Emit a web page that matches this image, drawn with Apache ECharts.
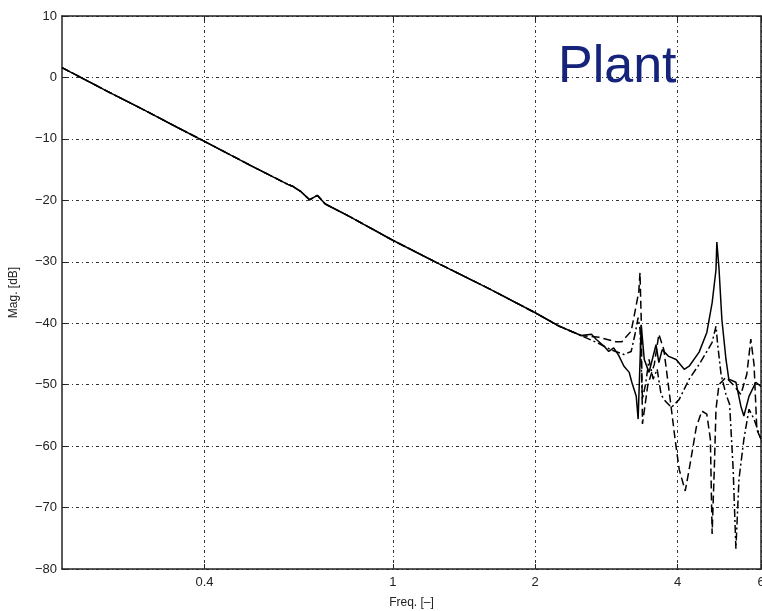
<!DOCTYPE html>
<html>
<head>
<meta charset="utf-8">
<script src="https://cdn.jsdelivr.net/npm/echarts@6/dist/echarts.min.js"></script>
<style>
  html, body { margin: 0; padding: 0; background: #fff; }
  #main { width: 762px; height: 611px; }
</style>
</head>
<body>
<div id="main"></div>
<script>
// low frequency part, the three measurements lie on top of each other
var lowFreq = [0.2, 0.25, 0.3, 0.35, 0.4, 0.5, 0.6, 0.614, 0.64, 0.667, 0.693, 0.72, 0.8, 1.0, 1.25, 1.6, 2.0, 2.25, 2.5];
var lowMag  = [1.6, -2.3, -5.4, -8.1, -10.4, -14.3, -17.4, -17.7, -18.6, -19.9, -19.2, -20.6, -22.4, -26.5, -30.3, -34.4, -38.3, -40.5, -42.0];

// solid line, above 2.5
var solidFreq = [2.63, 2.69, 2.80, 2.86, 2.93, 3.0, 3.08, 3.16, 3.20, 3.27, 3.30, 3.35, 3.40, 3.48, 3.60, 3.65, 3.71, 3.83, 3.97, 4.13, 4.23, 4.44, 4.61, 4.73, 4.82, 4.84, 4.89, 4.96, 5.06, 5.13, 5.31, 5.44, 5.52, 5.66, 5.85, 6.0];
var solidMag  = [-41.8, -42.6, -43.8, -44.6, -44.0, -45.2, -47.0, -48.0, -49.6, -51.9, -55.6, -40.3, -45.9, -48.0, -43.5, -46.4, -44.3, -45.4, -45.9, -47.5, -47.0, -44.7, -41.5, -36.7, -31.3, -26.8, -31.0, -39.4, -45.9, -49.1, -49.6, -53.5, -55.1, -51.9, -49.6, -50.3];

// dashed line, above 2.5
var dashFreq = [2.73, 2.96, 3.05, 3.19, 3.25, 3.31, 3.33, 3.35, 3.37, 3.46, 3.57, 3.65, 3.74, 3.88, 3.95, 4.03, 4.15, 4.23, 4.38, 4.50, 4.61, 4.69, 4.73, 4.78, 4.82, 4.89, 5.06, 5.24, 5.44, 5.60, 5.71, 5.80, 5.88, 6.0];
var dashMag  = [-42.3, -43.0, -43.0, -41.3, -38.1, -34.9, -31.8, -39.4, -56.4, -50.0, -46.7, -41.8, -44.3, -54.0, -58.9, -63.8, -67.3, -63.8, -56.9, -54.3, -54.8, -58.9, -74.3, -63.8, -54.0, -50.0, -48.8, -50.0, -51.6, -48.3, -42.6, -46.7, -57.3, -58.9];

// dash-dot line, above 2.5
var dotFreq = [2.69, 2.89, 3.08, 3.19, 3.25, 3.30, 3.33, 3.37, 3.42, 3.48, 3.55, 3.62, 3.69, 3.74, 3.88, 4.03, 4.23, 4.44, 4.61, 4.73, 4.82, 4.86, 4.94, 5.06, 5.15, 5.24, 5.31, 5.39, 5.52, 5.66, 5.80, 6.0];
var dotMag  = [-43.1, -44.3, -45.1, -44.6, -41.8, -39.1, -41.0, -52.4, -50.0, -45.9, -49.1, -47.5, -51.6, -52.4, -53.7, -52.4, -49.1, -46.7, -44.6, -43.1, -40.5, -43.5, -48.3, -51.6, -53.2, -63.8, -76.7, -65.4, -58.9, -54.0, -55.6, -58.9];

var xTicks = [0.4, 1, 2, 4, 6];

function pairs(f, m) {
  var out = [];
  for (var i = 0; i < f.length; i++) out.push([f[i], m[i]]);
  return out;
}

var gridLine = { show: true, lineStyle: { color: '#333', width: 1, type: [1, 3, 3, 3] } };
var labelFont = { color: '#222', fontSize: 13, fontFamily: 'Liberation Sans, Arial, sans-serif' };
var minus = function (v) { return String(v).replace('-', '\u2212'); };

var chart = echarts.init(document.getElementById('main'), null, { renderer: 'canvas' });

function line(f, m, type) {
  return {
    type: 'line',
    data: pairs(lowFreq.concat(f), lowMag.concat(m)),
    showSymbol: false,
    symbol: 'none',
    animation: false,
    lineStyle: { color: '#000', width: 1.5, type: type }
  };
}

chart.setOption({
  animation: false,
  grid: { left: 62, top: 16, right: 1, bottom: 42, show: false, outerBoundsMode: 'none', containLabel: false },
  xAxis: [{
    type: 'log', logBase: 10, min: 0.2, max: 6,
    name: 'Freq. [\u2013]', nameLocation: 'middle', nameGap: 28,
    nameTextStyle: { color: '#222', fontSize: 12, fontFamily: 'Liberation Sans, Arial, sans-serif' },
    axisLine: { show: true, onZero: false, lineStyle: { color: '#222', width: 1.5 } },
    axisTick: { show: true, inside: true, length: 5, customValues: xTicks, lineStyle: { color: '#222' } },
    axisLabel: Object.assign({ customValues: xTicks, margin: 7, formatter: function (v) { return String(v); } }, labelFont),
    splitLine: gridLine
  }, {
    type: 'log', logBase: 10, min: 0.2, max: 6, position: 'top',
    axisLine: { show: true, onZero: false, lineStyle: { color: '#222', width: 1.5 } },
    axisTick: { show: true, inside: true, length: 5, customValues: xTicks, lineStyle: { color: '#222' } },
    axisLabel: { show: false },
    splitLine: { show: false }
  }],
  yAxis: [{
    type: 'value', min: -80, max: 10, interval: 10,
    name: 'Mag. [dB]', nameLocation: 'middle', nameGap: 42,
    nameTextStyle: { color: '#222', fontSize: 12, fontFamily: 'Liberation Sans, Arial, sans-serif' },
    axisLine: { show: true, onZero: false, lineStyle: { color: '#222', width: 1.5 } },
    axisTick: { show: true, inside: true, length: 5, lineStyle: { color: '#222' } },
    axisLabel: Object.assign({ margin: 5, formatter: minus }, labelFont),
    splitLine: gridLine
  }, {
    type: 'value', min: -80, max: 10, interval: 10, position: 'right',
    axisLine: { show: true, onZero: false, lineStyle: { color: '#222', width: 1.5 } },
    axisTick: { show: true, inside: true, length: 5, lineStyle: { color: '#222' } },
    axisLabel: { show: false },
    splitLine: { show: false }
  }],
  graphic: [{
    type: 'text', left: 558, top: 42, z: 100,
    style: { text: 'Plant', fill: '#15237a', font: '52px "Liberation Sans", Arial, sans-serif' }
  }],
  series: [
    line(solidFreq, solidMag, 'solid'),
    line(dashFreq, dashMag, [8, 4]),
    line(dotFreq, dotMag, [8, 3, 2, 3])
  ]
});
</script>
</body>
</html>
